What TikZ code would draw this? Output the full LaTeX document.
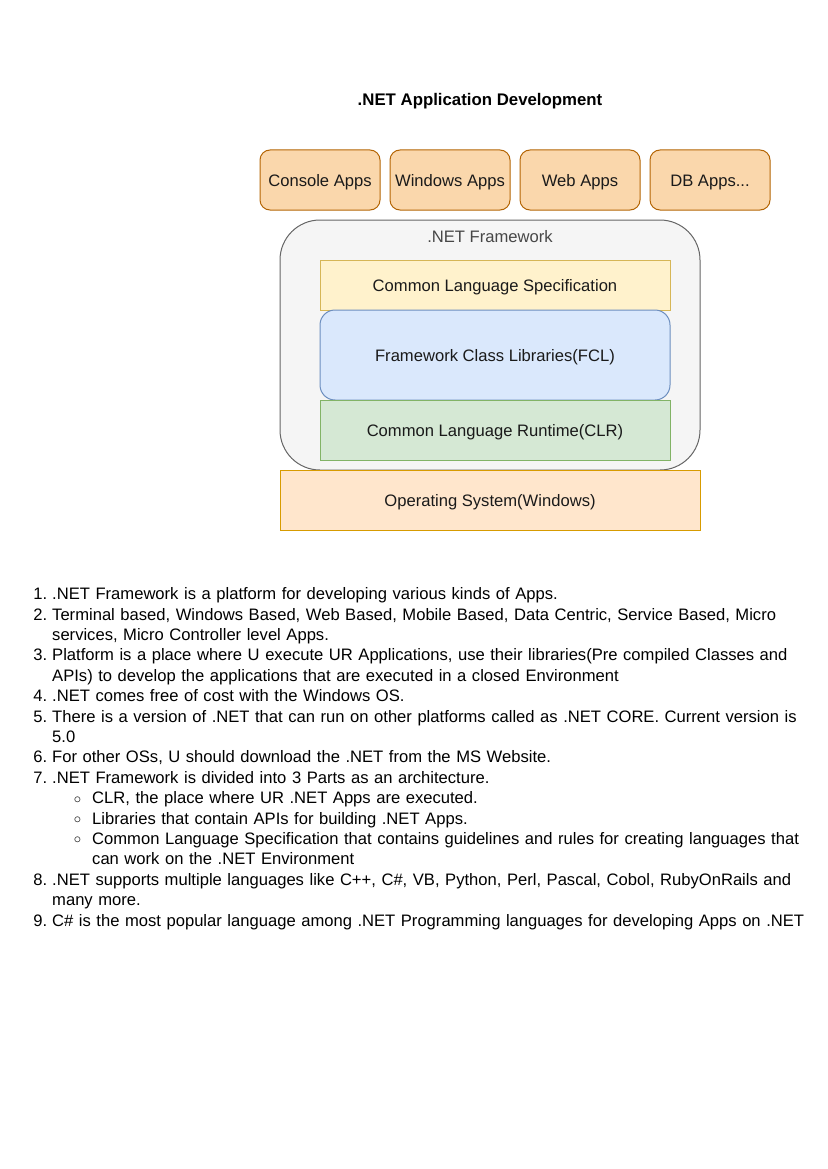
\documentclass[tikz,border=0pt]{standalone}
\usepackage{fontspec}
\setmainfont{Liberation Sans}
\usepackage{enumitem}
\usepackage{tikz}

\definecolor{appfill}{HTML}{FAD7AC}
\definecolor{appline}{HTML}{B46504}
\definecolor{fwfill}{HTML}{F5F5F5}
\definecolor{fwline}{HTML}{666666}
\definecolor{clsfill}{HTML}{FFF2CC}
\definecolor{clsline}{HTML}{D6B656}
\definecolor{fclfill}{HTML}{DAE8FC}
\definecolor{fclline}{HTML}{6C8EBF}
\definecolor{clrfill}{HTML}{D5E8D4}
\definecolor{clrline}{HTML}{82B366}
\definecolor{osfill}{HTML}{FFE6CC}
\definecolor{osline}{HTML}{D79B00}
\definecolor{txt}{HTML}{1A1A1A}

\begin{document}
\begin{tikzpicture}[x=1pt, y=-1pt]
    \tikzstyle{every node}=[font=\fontsize{16.6}{19}\selectfont, text=txt]
    \tikzstyle{app}=[draw=appline, fill=appfill, line width=1pt, rounded corners=10pt, minimum width=120pt, minimum height=60pt, inner sep=0pt, text height=12pt, text depth=0pt]
    \tikzstyle{layer}=[line width=1pt, minimum width=350pt, inner sep=0pt, text height=12pt, text depth=0pt]

    \useasboundingbox (0, 0) rectangle (827, 1169);

    % Title
	\node[font=\fontsize{16.8}{19}\selectfont\bfseries, text=black] (title) at (480, 101) {.NET Application Development};

	% Apps
	\node[app] (console) at (320, 180) {Console Apps};
	\node[app] (windows) at (450, 180) {Windows Apps};
	\node[app] (web) at (580, 180) {Web Apps};
	\node[app] (db) at (710, 180) {DB Apps...};

	% Framework
	\node[draw=fwline, fill=fwfill, line width=1pt, rounded corners=40pt, minimum width=420pt, minimum height=250pt] (fw) at (490, 345) {};
	\node[text=fwline!70!black, text height=12pt, text depth=0pt, inner sep=0pt] (fwlabel) at (490, 236) {.NET Framework};

	% Layers
	\node[layer, draw=clsline, fill=clsfill, minimum height=50pt] (cls) at (495, 285) {Common Language Specification};
	\node[layer, draw=fclline, fill=fclfill, minimum height=90pt, rounded corners=15pt] (fcl) at (495, 355) {Framework Class Libraries(FCL)};
	\node[layer, draw=clrline, fill=clrfill, minimum height=60pt] (clr) at (495, 430) {Common Language Runtime(CLR)};

	% OS
	\node[layer, draw=osline, fill=osfill, minimum width=420pt, minimum height=60pt] (os) at (490, 500) {Operating System(Windows)};

	% Notes
	\node[anchor=north west, text width=840pt, align=left, inner sep=0pt, font=\fontsize{16.6}{20.4}\selectfont, text=black] (notes) at (20, 579) {%
	\begin{enumerate}[leftmargin=32pt, labelsep=5pt, itemsep=0pt, topsep=0pt, parsep=0pt, partopsep=0pt]
	\item .NET Framework is a platform for developing various kinds of Apps.
	\item Terminal based, Windows Based, Web Based, Mobile Based, Data Centric, Service Based, Micro\\
	services, Micro Controller level Apps.
	\item Platform is a place where U execute UR Applications, use their libraries(Pre compiled Classes and\\
	APIs) to develop the applications that are executed in a closed Environment
	\item .NET comes free of cost with the Windows OS.
	\item There is a version of .NET that can run on other platforms called as .NET CORE. Current version is\\
	5.0
	\item For other OSs, U should download the .NET from the MS Website.
	\item .NET Framework is divided into 3 Parts as an architecture.
	\begin{itemize}[label={\raisebox{0.5pt}{\scalebox{0.85}{$\circ$}}}, leftmargin=40pt, labelsep=11pt, itemsep=0pt, topsep=0pt, parsep=0pt, partopsep=0pt]
	\item CLR, the place where UR .NET Apps are executed.
	\item Libraries that contain APIs for building .NET Apps.
	\item Common Language Specification that contains guidelines and rules for creating languages that\\
	can work on the .NET Environment
	\end{itemize}
	\item .NET supports multiple languages like C++, C\#, VB, Python, Perl, Pascal, Cobol, RubyOnRails and\\
	many more.
	\item C\# is the most popular language among .NET Programming languages for developing Apps on .NET
	\end{enumerate}};
\end{tikzpicture}
\end{document}
